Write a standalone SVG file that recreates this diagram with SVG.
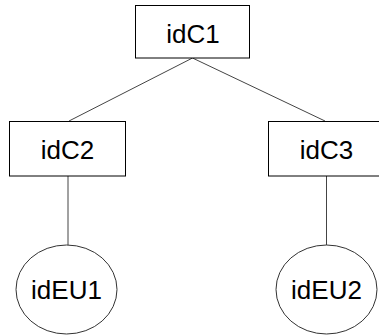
<svg xmlns="http://www.w3.org/2000/svg" width="379" height="335" viewBox="0 0 379 335">
  <style>
    .box { fill: #ffffff; stroke: #000000; stroke-width: 1; }
    .oval { fill: #ffffff; stroke: #333333; stroke-width: 1; }
    .edge { stroke: #444444; stroke-width: 1; fill: none; }
    .label { font-family: "Liberation Sans", Arial, sans-serif; font-size: 26px; fill: #000000; text-anchor: middle; }
  </style>
  <rect width="379" height="335" fill="#ffffff"/>
  <g id="connectors">
    <line class="edge" x1="192.5" y1="58" x2="69" y2="121"/>
    <line class="edge" x1="192.5" y1="58" x2="325" y2="121"/>
    <line class="edge" x1="68" y1="176" x2="68" y2="245"/>
    <line class="edge" x1="326.5" y1="176" x2="326.5" y2="245"/>
  </g>
  <g id="idC1">
    <rect class="box" x="135.5" y="5.5" width="114" height="52.5"/>
    <text class="label" x="193" y="42.5">idC1</text>
  </g>
  <g id="idC2">
    <rect class="box" x="9.5" y="121.5" width="116" height="54.5"/>
    <text class="label" x="67.5" y="159">idC2</text>
  </g>
  <g id="idC3">
    <rect class="box" x="268.5" y="121.5" width="118" height="54.5"/>
    <text class="label" x="326.5" y="159">idC3</text>
  </g>
  <g id="idEU1">
    <ellipse class="oval" cx="66.5" cy="289.5" rx="50.5" ry="44.5"/>
    <text class="label" x="66.5" y="299">idEU1</text>
  </g>
  <g id="idEU2">
    <ellipse class="oval" cx="326.5" cy="289.5" rx="50.5" ry="44.5"/>
    <text class="label" x="326.5" y="299">idEU2</text>
  </g>
</svg>
